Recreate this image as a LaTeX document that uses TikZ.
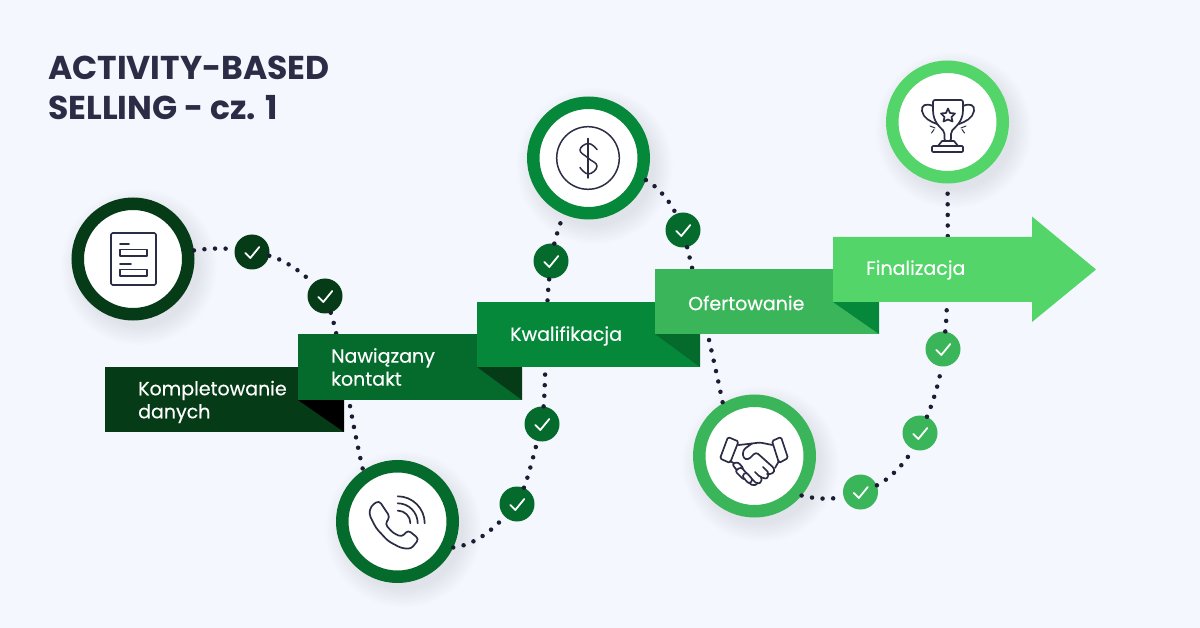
\documentclass[tikz,border=0pt]{standalone}
\usepackage{fontspec}
\setmainfont{Poppins}
\newfontfamily\lblfont[FakeBold=0.35]{Poppins}
\usetikzlibrary{calc}
\definecolor{bgc}{HTML}{F4F7FD}
\definecolor{ink}{HTML}{2A2D45}
\definecolor{dotc}{HTML}{1B1D33}
\definecolor{gA}{HTML}{063B17}
\definecolor{gB}{HTML}{056B2C}
\definecolor{gC}{HTML}{06883A}
\definecolor{gD}{HTML}{3BB55A}
\definecolor{gE}{HTML}{53D56A}
\tikzset{
  x=1pt,y=-1pt,
  dotline/.style={draw=dotc,line width=4.5pt,line cap=round,dash pattern=on 0pt off 10.6pt},
  ring/.style={circle,draw=#1,line width=12.5pt,fill=white,minimum size=110.5pt,inner sep=0pt},
  chk/.style={circle,fill=#1,minimum size=35pt,inner sep=0pt},
  ckm/.style={draw=white,line width=1.8pt,line join=round,line cap=round},
  lbl/.style={text=white,anchor=west,align=left,inner sep=0pt,font=\lblfont\fontsize{19}{23}\selectfont},
  ttl/.style={text=ink,anchor=west,inner sep=0pt,font=\fontsize{33}{33}\selectfont\bfseries},
  ico/.style={draw=ink,line width=1.7pt,line join=round,line cap=round},
}
\newcommand{\softshadow}[2]{%
  \foreach \rr in {60,62,...,78}{\fill[black,opacity=0.009] (#1+6,#2+8) circle (\rr);}}
\newcommand{\chkmark}[1]{%
  \draw[ckm] ([shift={(-6.7,1)}]#1.center) -- ([shift={(-1.7,6)}]#1.center) -- ([shift={(7.3,-5)}]#1.center);}
\begin{document}
\begin{tikzpicture}
\useasboundingbox (0,0) rectangle (1200,628);
\fill[bgc] (0,0) rectangle (1200,628);

% title
\node[ttl] (t1) at (48,68) {ACTIVITY-BASED};
\node[ttl] (t2) at (48,108) {SELLING - cz. 1};

% shadows
\softshadow{133}{259}
\softshadow{397.5}{521.5}
\softshadow{588.5}{158}
\softshadow{754.5}{456}
\softshadow{947.5}{122}

% named nodes
\node[ring=gA] (c1) at (133,259) {};
\node[ring=gB] (c2) at (397.5,521.5) {};
\node[ring=gC] (c3) at (588.5,158) {};
\node[ring=gD] (c4) at (754.5,456) {};
\node[ring=gE] (c5) at (947.5,122) {};
\node[chk=gA] (k1) at (252,252) {};
\node[chk=gA] (k2) at (325,296) {};
\node[chk=gB] (k3) at (517,504) {};
\node[chk=gB] (k4) at (542,424) {};
\node[chk=gB] (k5) at (551,261) {};
\node[chk=gB] (k6) at (683,230) {};
\node[chk=gD] (k7) at (860.5,492) {};
\node[chk=gD] (k8) at (920,433) {};
\node[chk=gD] (k9) at (943,349) {};

% dotted connectors
\draw[dotline] (c1.8) .. controls (212,248) and (224,248) .. (k1);
\draw[dotline] (k1) .. controls (275,257) and (295,265) .. (k2);
\draw[dotline] (k2) .. controls (340,340) and (349,410) .. (c2.124);
\draw[dotline] (c2.-25) .. controls (475,545) and (492,530) .. (k3);
\draw[dotline] (k3) .. controls (528,478) and (535,450) .. (k4);
\draw[dotline] (k4) .. controls (546,380) and (545,320) .. (k5);
\draw[dotline] (k5) .. controls (555,240) and (558,230) .. (c3.-114);
\draw[dotline] (c3.-21) .. controls (660,188) and (672,205) .. (k6);
\draw[dotline] (k6) .. controls (695,280) and (712,350) .. (c4.121);
\draw[dotline] (c4.-40) .. controls (820,500) and (835,499) .. (k7);
\draw[dotline] (k7) .. controls (885,482) and (905,465) .. (k8);
\draw[dotline] (k8) .. controls (932,405) and (940,380) .. (k9);
\draw[dotline] (k9) .. controls (948,310) and (948,230) .. (c5.-90);

% ribbons
\fill[gA] (105,367) rectangle (344,432);
\fill[black] (298,400) -- (344,400) -- (344,432) -- cycle;
\fill[gB] (298,334) rectangle (522,400);
\fill[gA] (477,367) -- (522,367) -- (522,400) -- cycle;
\fill[gC] (477,302) rectangle (700,367);
\fill[gB] (655,334) -- (700,334) -- (700,367) -- cycle;
\fill[gD] (655,269) rectangle (879,334);
\fill[gC] (833,302) -- (879,302) -- (879,334) -- cycle;
\fill[gE] (833,237) -- (1032,237) -- (1032,216.5) -- (1096,269.5) -- (1032,322) -- (1032,302) -- (833,302) -- cycle;

\node[lbl] (l1) at (138,402) {Kompletowanie\\danych};
\node[lbl] (l2) at (331,367) {Nawiązany\\kontakt};
\node[lbl] (l3) at (510,336) {Kwalifikacja};
\node[lbl] (l4) at (688,303) {Ofertowanie};
\node[lbl] (l5) at (866,270) {Finalizacja};

% check marks
\foreach \n in {k1,k2,k3,k4,k5,k6,k7,k8,k9}{\chkmark{\n}}

% icon: form
\draw[ico,rounded corners=1.5pt] (111,233) rectangle (156,285);
\draw[ico] (120,244) -- (129,244);
\draw[ico] (120,249.5) rectangle (147,256);
\draw[ico] (120,264) -- (131,264);
\draw[ico] (120,269.5) rectangle (147,276);

% icon: phone
\draw[ico,rounded corners=3.5pt] (379,500.5) -- (371,506) -- (369,514) -- (376,528) -- (388,541) -- (401,548) -- (411,549) -- (419,539) -- (408,530) -- (402,537) -- (393,533) -- (385,524) -- (390,517) -- cycle;
\draw[ico] (397.7,496.3) arc[start angle=-90,end angle=0,radius=27];
\draw[ico] (397.7,503.3) arc[start angle=-90,end angle=0,radius=20];
\draw[ico] (397.7,510.6) arc[start angle=-90,end angle=0,radius=12.7];

% icon: dollar
\draw[ico,line width=1.5pt] (588,158) circle (31.3);
\draw[ico,line width=1.5pt] (588,138.5) -- (588,178);
\draw[ico,line width=1.5pt] plot[smooth,tension=0.8] coordinates {(597,149.5) (588.5,143.5) (580,150) (588,158) (597,166) (588.5,174) (580,167.5)};

% icon: handshake
\draw[ico,rounded corners=1.5pt] (728,437) -- (738.5,441.5) -- (730,463) -- (720,458.5) -- cycle;
\draw[ico,rounded corners=1.5pt] (772,441) -- (781,437) -- (788,458) -- (779,463) -- cycle;
\draw[ico,rounded corners=2pt] (738.5,445) -- (748,444) -- (760,442.5) -- (772.5,445);
\draw[ico,rounded corners=3pt] (752,443.5) -- (743,450) -- (743,458) -- (748,460) -- (756,452) -- (775,469) -- (773,474) -- (767,474);
\draw[ico] (779,461) -- (775,468);
\draw[ico] (730,461) -- (737,465);
\draw[ico,rounded corners=2pt] (763,467) -- (769,473) -- (767,479) -- (760,477) -- (755,472);
\draw[ico,rounded corners=2pt] (761,477) -- (762,482) -- (757,484) -- (750,477);
\draw[ico,rounded corners=2pt] (757,484) -- (753,486) -- (747,481);
\draw[ico,fill=white,rounded corners=2.5pt] (732,464) -- (738,462) -- (744,469) -- (739,473) -- cycle;
\draw[ico,fill=white,rounded corners=2.5pt] (735,471) -- (741,467) -- (749,476) -- (744,480) -- cycle;
\draw[ico,fill=white,rounded corners=2.5pt] (742,476) -- (746,472) -- (753,480) -- (749,484) -- cycle;

% icon: trophy
\draw[ico,rounded corners=2pt] (933,100) -- (963,100) -- (963,108) .. controls (963,122) and (955,127) .. (951,132) -- (951,141) -- (944.5,141) -- (944.5,132) .. controls (940,127) and (933,122) .. (933,108) -- cycle;
\draw[ico] (933,106) .. controls (926,103) and (921,105) .. (922,111) .. controls (923,118) and (931,122) .. (937,124);
\draw[ico] (963,106) .. controls (970,103) and (975,105) .. (974,111) .. controls (973,118) and (965,122) .. (959,124);
\draw[ico] (942,141) -- (954,141) -- (958,146) -- (938,146) -- cycle;
\draw[ico,rounded corners=1pt] (932,146) rectangle (963,152);
\draw[ico] (948,108.5) -- (950,113) -- (955,113.5) -- (951.5,117) -- (952.5,121.5) -- (948,119.5) -- (943.5,121.5) -- (944.5,117) -- (941,113.5) -- (946,113) -- cycle;
\draw[ico,line width=1pt] (930,126) -- (935,128);
\draw[ico,line width=1pt] (931.5,133) -- (934,129.5);
\draw[ico,line width=1pt] (966,126) -- (961,128);
\draw[ico,line width=1pt] (964.5,133) -- (962,129.5);
\end{tikzpicture}
\end{document}
